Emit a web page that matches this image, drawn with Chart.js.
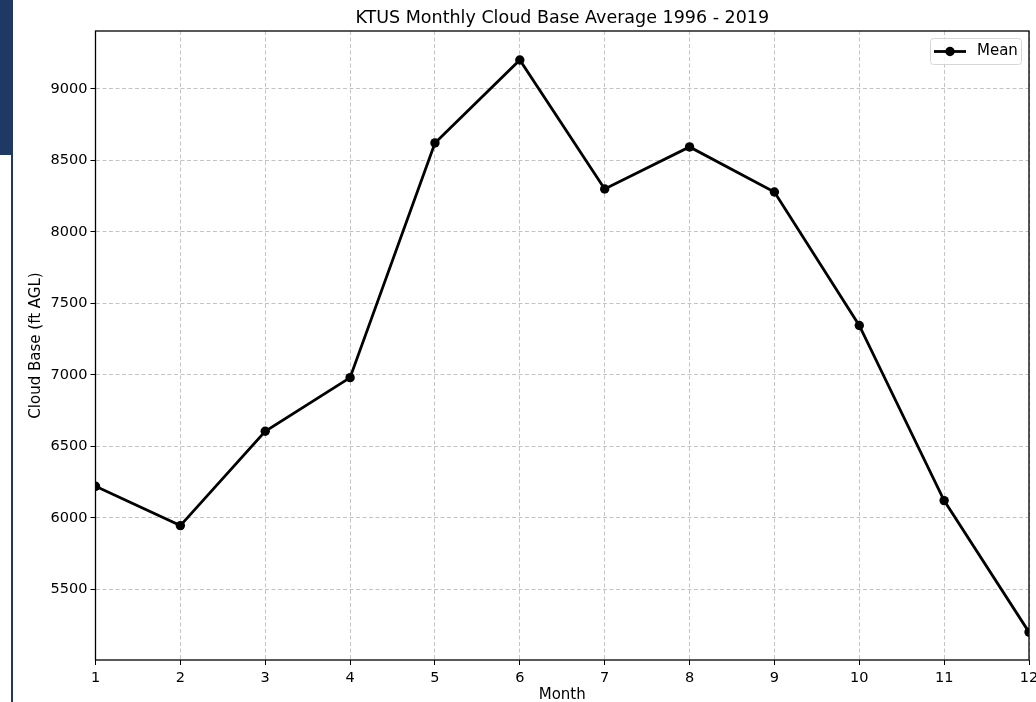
<!DOCTYPE html>
<html>
<head>
<meta charset="utf-8">
<script src="https://cdn.jsdelivr.net/npm/chart.js@4/dist/chart.umd.min.js"></script>
<style>
  body { margin: 0; background: #fff; }
  #wrap { position: relative; width: 1036px; height: 702px; }
  #bar { position: absolute; left: 0; top: 0; width: 13px; height: 155px; background: #1e3a64; }
  #edge { position: absolute; left: 11px; top: 155px; width: 2px; height: 547px; background: #1e3a64; }
</style>
</head>
<body>
<div id="wrap">
  <canvas id="cloud" width="1036" height="702"></canvas>
  <div id="bar"></div>
  <div id="edge"></div>
</div>
<script>
var months = [1, 2, 3, 4, 5, 6, 7, 8, 9, 10, 11, 12];
var meanBase = [6220, 5945, 6605, 6980, 8622, 9202, 8300, 8594, 8279, 7345, 6120, 5200];
var yTicks = [5500, 6000, 6500, 7000, 7500, 8000, 8500, 9000];

var font = 'DejaVu Sans';

// box round the plot, like matplotlib axes
var frame = {
    id: 'frame',
    afterDatasetsDraw: function (chart) {
        var a = chart.chartArea, c = chart.ctx;
        c.save();
        c.strokeStyle = '#000';
        c.lineWidth = 1.3;
        c.strokeRect(a.left, a.top, a.right - a.left, a.bottom - a.top);
        c.restore();
    }
};

// legend box in the top right corner of the plot
var cornerLegend = {
    id: 'cornerLegend',
    afterDraw: function (chart) {
        var a = chart.chartArea, c = chart.ctx;
        var ds = chart.data.datasets[0];
        var w = 91, h = 26;
        var x = a.right - 8 - w, y = a.top + 7;
        c.save();
        c.fillStyle = 'rgba(255,255,255,0.85)';
        c.strokeStyle = '#d6d6d6';
        c.lineWidth = 1;
        c.beginPath();
        c.roundRect(x + 0.5, y + 0.5, w, h, 3);
        c.fill();
        c.stroke();
        var ly = y + h / 2 + 0.5;
        c.strokeStyle = ds.borderColor;
        c.lineWidth = ds.borderWidth;
        c.beginPath();
        c.moveTo(x + 4, ly);
        c.lineTo(x + 36, ly);
        c.stroke();
        c.fillStyle = ds.pointBackgroundColor;
        c.beginPath();
        c.arc(x + 20, ly, ds.pointRadius, 0, Math.PI * 2);
        c.fill();
        c.fillStyle = '#000';
        c.font = '15px "' + font + '"';
        c.textBaseline = 'middle';
        c.fillText(ds.label, x + 47, ly);
        c.restore();
    }
};

var ctx = document.getElementById('cloud').getContext('2d');
var chart = new Chart(ctx, {
    type: 'line',
    data: {
        labels: months,
        datasets: [{
            label: 'Mean',
            data: meanBase,
            borderColor: '#000',
            backgroundColor: '#000',
            pointBackgroundColor: '#000',
            pointBorderColor: '#000',
            borderWidth: 2.8,
            pointRadius: 4.7,
            pointBorderWidth: 0,
            tension: 0,
            clip: 0
        }]
    },
    options: {
        responsive: false,
        animation: false,
        layout: { autoPadding: false, padding: { left: 0, right: 7, top: 0, bottom: 0 } },
        plugins: {
            legend: { display: false },
            tooltip: { enabled: false },
            title: {
                display: true,
                text: 'KTUS Monthly Cloud Base Average 1996 - 2019',
                color: '#000',
                fullSize: false,
                font: { family: font, size: 17.5, weight: 'normal' },
                padding: { top: 8, bottom: 2 }
            }
        },
        scales: {
            x: {
                type: 'linear',
                min: 1,
                max: 12,
                afterBuildTicks: function (scale) {
                    scale.ticks = months.map(function (m) { return { value: m }; });
                },
                afterFit: function (scale) {
                    scale.height = 42;
                    scale.paddingLeft = 0;
                    scale.paddingRight = 0;
                },
                grid: {
                    color: '#c4c4c4',
                    lineWidth: 1,
                    tickLength: 5,
                    tickColor: '#000',
                    tickBorderDash: [],
                    tickWidth: 1
                },
                border: { display: false, dash: [4, 2.5] },
                ticks: { color: '#000', padding: 5, maxRotation: 0, font: { family: font, size: 14.5 } },
                title: {
                    display: true,
                    text: 'Month',
                    color: '#000',
                    padding: { top: 0, bottom: -2 },
                    font: { family: font, size: 15 }
                }
            },
            y: {
                min: 5005,
                max: 9405,
                afterBuildTicks: function (scale) {
                    scale.ticks = yTicks.map(function (v) { return { value: v }; });
                },
                afterFit: function (scale) {
                    scale.width = 95.5;
                    scale.paddingTop = 0;
                    scale.paddingBottom = 0;
                },
                grid: {
                    color: '#c4c4c4',
                    lineWidth: 1,
                    tickLength: 5,
                    tickColor: '#000',
                    tickBorderDash: [],
                    tickWidth: 1
                },
                border: { display: false, dash: [4, 2.5] },
                ticks: {
                    color: '#000',
                    padding: 3,
                    font: { family: font, size: 14.5 },
                    callback: function (v) { return String(v); }
                },
                title: {
                    display: true,
                    text: 'Cloud Base (ft AGL)',
                    color: '#000',
                    padding: { top: 27, bottom: 0 },
                    font: { family: font, size: 15 }
                }
            }
        }
    },
    plugins: [frame, cornerLegend]
});
</script>
</body>
</html>
